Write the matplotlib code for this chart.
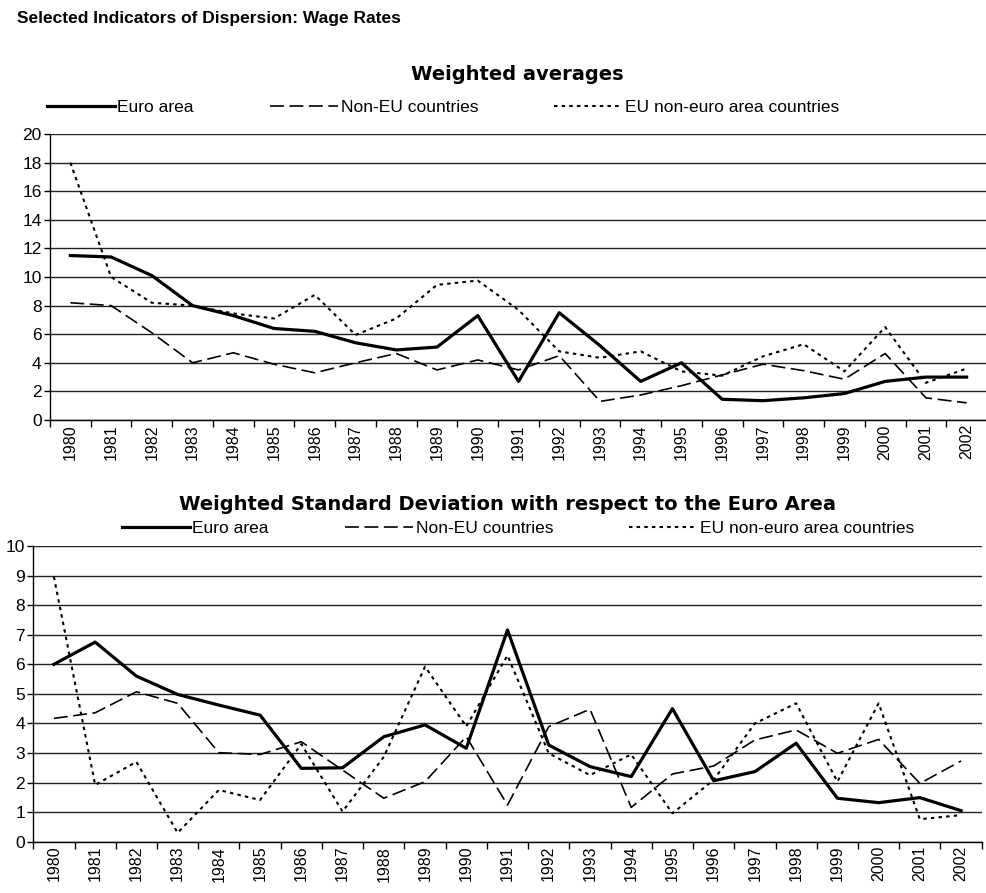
import matplotlib
matplotlib.use("Agg")
import matplotlib.pyplot as plt
from matplotlib.lines import Line2D
import numpy as np

plt.rcParams["font.family"] = ["Liberation Sans", "DejaVu Sans"]
plt.rcParams["lines.scale_dashes"] = False

years = [str(y) for y in range(1980, 2003)]

# Weighted averages
avg_euro = [11.5, 11.4, 10.1, 8.0, 7.3, 6.4, 6.2, 5.4, 4.9, 5.1, 7.3, 2.7,
            7.5, 5.2, 2.7, 4.0, 1.45, 1.35, 1.55, 1.85, 2.7, 3.0, 3.0]
avg_non_eu = [8.2, 8.0, 6.1, 4.0, 4.7, 3.9, 3.3, 4.0, 4.65, 3.5, 4.2, 3.5,
              4.5, 1.3, 1.75, 2.4, 3.15, 3.9, 3.45, 2.85, 4.65, 1.55, 1.2]
avg_eu_non_euro = [18.0, 10.0, 8.2, 8.0, 7.45, 7.1, 8.75, 5.95, 7.1, 9.45, 9.75, 7.7,
                   4.8, 4.35, 4.8, 3.4, 3.1, 4.45, 5.3, 3.4, 6.5, 2.6, 3.6]

# Weighted standard deviation with respect to the euro area
sd_euro = [6.0, 6.75, 5.6, 4.98, 4.62, 4.28, 2.48, 2.5, 3.55, 3.95, 3.16, 7.16,
           3.27, 2.54, 2.2, 4.5, 2.06, 2.37, 3.33, 1.47, 1.32, 1.49, 1.05]
sd_non_eu = [4.17, 4.36, 5.07, 4.68, 3.01, 2.95, 3.38, 2.42, 1.47, 2.03, 3.55, 1.24,
             3.89, 4.48, 1.16, 2.29, 2.56, 3.44, 3.78, 2.99, 3.46, 1.97, 2.73]
sd_eu_non_euro = [8.96, 1.92, 2.7, 0.3, 1.75, 1.41, 3.3, 1.02, 2.87, 5.92, 3.9, 6.3,
                  2.99, 2.25, 2.95, 0.96, 2.09, 4.0, 4.68, 2.03, 4.68, 0.76, 0.9]

series_labels = ["Euro area", "Non-EU countries", "EU non-euro area countries"]

W, H = 987, 893
fig = plt.figure(figsize=(W / 100, H / 100), dpi=100)

fig.text(17 / W, 1 - 18 / H, "Selected Indicators of Dispersion: Wage Rates",
         fontsize=12.5, fontweight="bold", ha="left", va="center")

STYLES = [
    dict(color="black", linewidth=2.3, linestyle="-"),
    dict(color="black", linewidth=1.2, linestyle=(0, (10, 4))),
    dict(color="black", linewidth=1.5, linestyle=(0, (2.5, 3))),
]


def draw_panel(rect, series, ymax, ystep, xright, title, title_xy, legend_xy):
    ax = fig.add_axes(rect)
    x = np.arange(len(years))
    for values, style, label in zip(series, STYLES, series_labels):
        ax.plot(x, values, label=label, **style)
    ax.set_xlim(-0.5, xright)
    ax.set_ylim(0, ymax)
    ax.set_yticks(np.arange(0, ymax + 0.01, ystep))
    ax.yaxis.grid(True, color="#222222", linewidth=1.0)
    ax.set_axisbelow(True)
    ax.set_xticks(x)
    ax.set_xticklabels(years, rotation=90, fontsize=11.5)
    ax.set_xticks(np.arange(-0.5, len(years)), minor=True)
    ax.tick_params(axis="x", which="major", length=0, pad=3)
    ax.tick_params(axis="x", which="minor", length=5, width=1, direction="out")
    ax.tick_params(axis="y", length=4, width=1, labelsize=12.5, pad=2)
    for s in ("top", "right"):
        ax.spines[s].set_visible(False)
    for s in ("left", "bottom"):
        ax.spines[s].set_color("black")
        ax.spines[s].set_linewidth(1.0)
    fig.text(title_xy[0], title_xy[1], title, family="DejaVu Sans",
             fontsize=14, fontweight="bold", ha="center", va="center")
    handles = [Line2D([], [], **st) for st in STYLES]
    fig.legend(handles, series_labels, loc="center left",
               bbox_to_anchor=legend_xy, bbox_transform=fig.transFigure,
               ncol=3, frameon=False, fontsize=12.5, handlelength=3.9,
               handletextpad=0.15, columnspacing=4.4, borderpad=0,
               borderaxespad=0)
    return ax


top_rect = [50 / W, 1 - 420 / H, (W - 50) / W, (420 - 134) / H]
draw_panel(top_rect, [avg_euro, avg_non_eu, avg_eu_non_euro], 20, 2,
           -0.5 + (W - 50) / 41.2, "Weighted averages", (517 / W, 1 - 74 / H),
           (47 / W, 1 - 107 / H))

bot_rect = [33.3 / W, 1 - 841.7 / H, (981.7 - 33.3) / W, (841.7 - 546) / H]
draw_panel(bot_rect, [sd_euro, sd_non_eu, sd_eu_non_euro], 10, 1,
           22.5, "Weighted Standard Deviation with respect to the Euro Area",
           (508 / W, 1 - 504 / H), (122 / W, 1 - 528 / H))

fig.savefig("out.png", dpi=100)
